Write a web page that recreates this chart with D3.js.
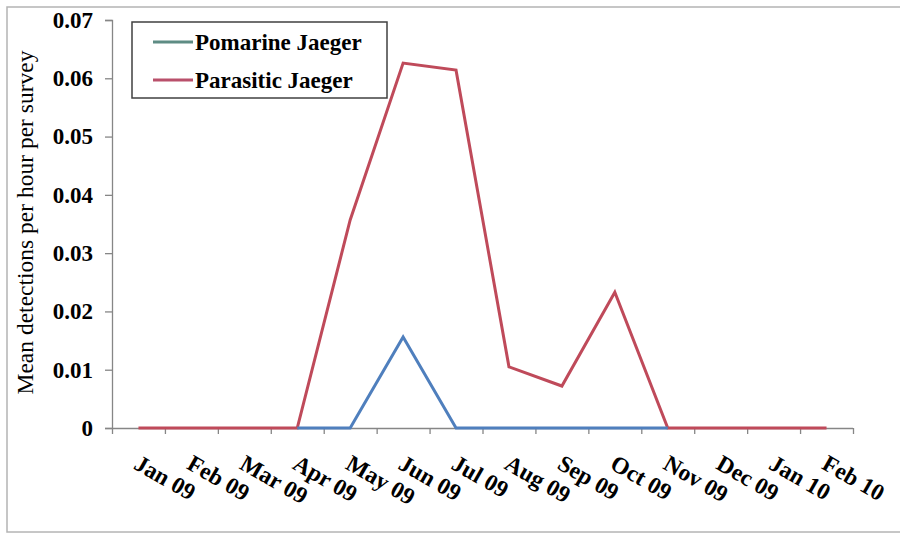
<!DOCTYPE html>
<html>
<head>
<meta charset="utf-8">
<script src="https://cdn.jsdelivr.net/npm/d3@7"></script>
<style>
  html, body { margin: 0; padding: 0; background: #fff; }
  svg { display: block; }
  text { font-family: "Liberation Serif", "Times New Roman", serif; fill: #000; }
</style>
</head>
<body>
<svg id="chart" width="900" height="533"></svg>
<script>
// Monthly survey periods
const months = ["Jan 09", "Feb 09", "Mar 09", "Apr 09", "May 09", "Jun 09", "Jul 09",
                "Aug 09", "Sep 09", "Oct 09", "Nov 09", "Dec 09", "Jan 10", "Feb 10"];

// Mean detections per hour per survey
const pomarine  = [null, null, null, 0, 0, 0.0156, 0, 0, 0, 0, 0, null, null, null];
const parasitic = [0, 0, 0, 0, 0.0357, 0.0626, 0.0614, 0.0105, 0.0072, 0.0233, 0, 0, 0, 0];

const yTicks = [0, 0.01, 0.02, 0.03, 0.04, 0.05, 0.06, 0.07];
const yTickLabels = ["0", "0.01", "0.02", "0.03", "0.04", "0.05", "0.06", "0.07"];

const seriesNames = ["Pomarine Jaeger", "Parasitic Jaeger"];

const svg = d3.select("#chart");
const plot = { left: 112, right: 853, top: 20, bottom: 428 };

const x = d3.scaleBand().domain(months).range([plot.left, plot.right]).paddingInner(0).paddingOuter(0);
const y = d3.scaleLinear().domain([0, 0.07]).range([plot.bottom, plot.top]);

// outer frame
svg.append("rect")
  .attr("x", 7).attr("y", 7).attr("width", 900).attr("height", 525)
  .attr("fill", "none").attr("stroke", "#b4b4b4").attr("stroke-width", 1.5);

// y axis
const yAxis = d3.axisLeft(y)
  .tickValues(yTicks)
  .tickFormat((d, i) => yTickLabels[i])
  .tickSize(7)
  .tickPadding(12);
const gy = svg.append("g").attr("transform", `translate(${plot.left},0)`).call(yAxis);
gy.select(".domain").attr("stroke", "#868686").attr("stroke-width", 1.3);
gy.selectAll(".tick line").attr("stroke", "#868686").attr("stroke-width", 1.3);
gy.selectAll(".tick text")
  .style("font-family", "'Liberation Serif', 'Times New Roman', serif")
  .style("font-size", "23px").style("font-weight", "bold").attr("fill", "#000");

// x axis: ticks on the boundaries between months
const boundaries = months.map(m => x(m)).concat([x(months[months.length - 1]) + x.bandwidth()]);
const bScale = d3.scaleLinear().domain([0, 1]).range([0, 1]);
const xAxis = d3.axisBottom(bScale).tickValues(boundaries).tickFormat("").tickSize(6).tickSizeOuter(0);
const gx = svg.append("g").attr("transform", `translate(0,${plot.bottom})`).call(xAxis);
gx.select(".domain").attr("d", `M${plot.left},0.5H${plot.right}`)
  .attr("stroke", "#868686").attr("stroke-width", 1.3);
gx.selectAll(".tick line").attr("stroke", "#868686").attr("stroke-width", 1.3);

// rotated month labels
svg.append("g").selectAll("text")
  .data(months)
  .join("text")
  .attr("transform", d => `translate(${x(d) + x.bandwidth() / 2 - 6},${plot.bottom + 40}) rotate(30)`)
  .attr("text-anchor", "start")
  .style("font-size", "23.5px").style("font-weight", "bold")
  .text(d => d);

// y axis title
svg.append("text")
  .attr("transform", `translate(33,${(50 + 395) / 2}) rotate(-90)`)
  .attr("text-anchor", "middle")
  .style("font-size", "23.5px")
  .text("Mean detections per hour per survey");

// series lines
const line = d3.line()
  .defined(d => d.v !== null)
  .x(d => x(d.m) + x.bandwidth() / 2)
  .y(d => y(d.v));

const toPoints = arr => arr.map((v, i) => ({ m: months[i], v }));

svg.append("path")
  .datum(toPoints(parasitic))
  .attr("d", line)
  .attr("fill", "none").attr("stroke", "#bf4a5a").attr("stroke-width", 3)
  .attr("stroke-linejoin", "miter");

svg.append("path")
  .datum(toPoints(pomarine))
  .attr("d", line)
  .attr("fill", "none").attr("stroke", "#4f7fbd").attr("stroke-width", 3)
  .attr("stroke-linejoin", "miter");

// legend
const legend = svg.append("g");
legend.append("rect")
  .attr("x", 132).attr("y", 22).attr("width", 255).attr("height", 76)
  .attr("fill", "#fff").attr("stroke", "#404040").attr("stroke-width", 1.5);
const legendColors = ["#5e8c84", "#b9506b"];
seriesNames.forEach((name, i) => {
  const cy = 42 + i * 38;
  legend.append("line")
    .attr("x1", 153).attr("x2", 193).attr("y1", cy).attr("y2", cy)
    .attr("stroke", legendColors[i]).attr("stroke-width", 3);
  legend.append("text")
    .attr("x", 195).attr("y", cy + 8)
    .style("font-size", "23px").style("font-weight", "bold")
    .text(name);
});
</script>
</body>
</html>
